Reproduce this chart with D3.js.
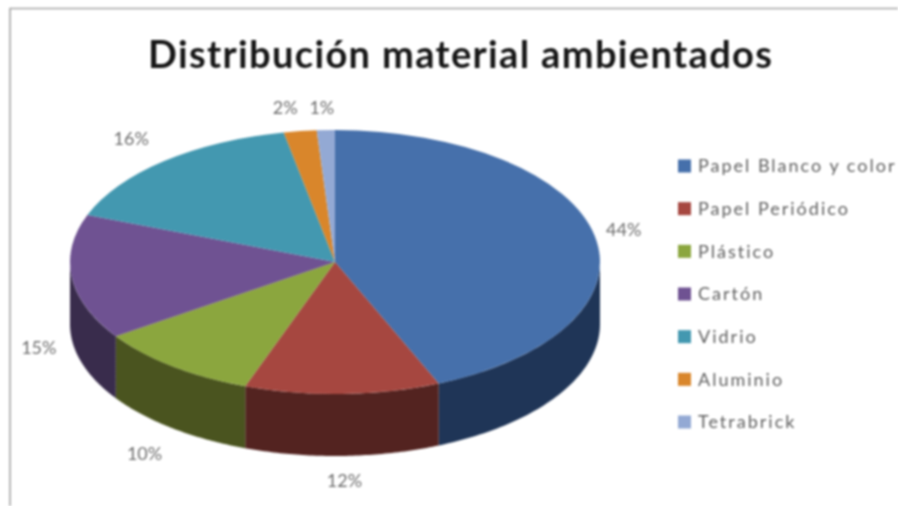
<!DOCTYPE html>
<html>

<head>
    <meta charset="utf-8">
    <style>
        body {
            margin: 0;
            background: #fff;
            overflow: hidden;
        }

        svg {
            display: block;
            /* the original is a soft, upscaled screenshot */
            filter: blur(0.8px);
        }

        text {
            font-family: Lato, 'Open Sans', sans-serif;
        }
    </style>
</head>

<body>
    <svg width="898" height="506"></svg>

    <script src="https://d3js.org/d3.v7.min.js"></script>

    <script>
        let categories = ["Papel Blanco y color", "Papel Periódico", "Plástico", "Cartón", "Vidrio", "Aluminio", "Tetrabrick"]
        // the labels round these
        let values = [43.6, 11.9, 10, 15.3, 16.1, 2, 1.1]
        let topColors = ["#4670ab", "#a64740", "#8ba63e", "#6f5292", "#4398b0", "#d9862b", "#93a9d4"]
        let wallColors = ["#1f3557", "#532320", "#4a541f", "#392c4c", "#25596a", "#80501a", "#56647f"]
        let title = "Distribución material ambientados"

        let width = 898
        let height = 506

        let cx = 335
        let cy = 262
        let rx = 265
        let ry = 132
        let depth = 62

        let svg = d3.select("svg")

        // chart frame, only top and left are in view
        svg.append("path")
            .attr("d", d3.line()([[10, height], [10, 8.5], [width, 8.5]]))
            .attr("fill", "none")
            .attr("stroke", "#a3a3a3")
            .attr("stroke-width", 1.6)

        svg.append("text")
            .attr("x", 460)
            .attr("y", 68)
            .attr("text-anchor", "middle")
            .attr("font-size", 38)
            .attr("font-weight", 700)
            .attr("fill", "#161616")
            .attr("textLength", 624)
            .text(title)

        let pie = d3.pie().sort(null)
        let slices = pie(values)

        let topColor = d3.scaleOrdinal().domain(categories).range(topColors)
        let wallColor = d3.scaleOrdinal().domain(categories).range(wallColors)

        // walls, only the part of a slice facing the viewer (90deg to 270deg)
        let wall = d3.area()
            .x(a => cx + rx * Math.sin(a))
            .y0(a => cy - ry * Math.cos(a))
            .y1(a => cy - ry * Math.cos(a) + depth)

        svg.append("g")
            .selectAll("path")
            .data(slices.filter(d => d.endAngle > Math.PI / 2 && d.startAngle < 3 * Math.PI / 2))
            .join("path")
            .attr("d", d => {
                let a0 = Math.max(d.startAngle, Math.PI / 2)
                let a1 = Math.min(d.endAngle, 3 * Math.PI / 2)
                return wall(d3.range(0, 61).map(i => a0 + (a1 - a0) * i / 60))
            })
            .attr("fill", d => wallColor(categories[d.index]))

        // top face is a normal pie squashed to an ellipse
        let arc = d3.arc().innerRadius(0).outerRadius(rx)

        svg.append("g")
            .attr("transform", `translate(${cx},${cy}) scale(1,${ry / rx})`)
            .selectAll("path")
            .data(slices)
            .join("path")
            .attr("d", arc)
            .attr("fill", d => topColor(categories[d.index]))

        // percent labels: rim point of each slice plus a nudge
        let nudges = [[29, -6], [2, 87], [-28, 87], [-33, 70], [-33, -22], [-15, -23], [-4, -22]]

        svg.append("g")
            .selectAll("text")
            .data(slices)
            .join("text")
            .attr("x", d => cx + rx * Math.sin((d.startAngle + d.endAngle) / 2) + nudges[d.index][0])
            .attr("y", d => cy - ry * Math.cos((d.startAngle + d.endAngle) / 2) + nudges[d.index][1])
            .attr("dy", "0.35em")
            .attr("text-anchor", "middle")
            .attr("font-size", 18)
            .attr("fill", "#6e6e6e")
            .text(d => d3.format(".0%")(d.value / 100))

        // legend
        let legendY = d3.scalePoint().domain(categories).range([166, 422])

        let legend = svg.append("g")
            .selectAll("g")
            .data(categories)
            .join("g")
            .attr("transform", d => `translate(678,${legendY(d)})`)

        legend.append("rect")
            .attr("y", -6.5)
            .attr("width", 13)
            .attr("height", 13)
            .attr("fill", d => topColor(d))

        legend.append("text")
            .attr("x", 20)
            .attr("dy", "0.35em")
            .attr("font-size", 18)
            .attr("letter-spacing", 2)
            .attr("fill", "#5f5f5f")
            .text(d => d)
    </script>
</body>

</html>
